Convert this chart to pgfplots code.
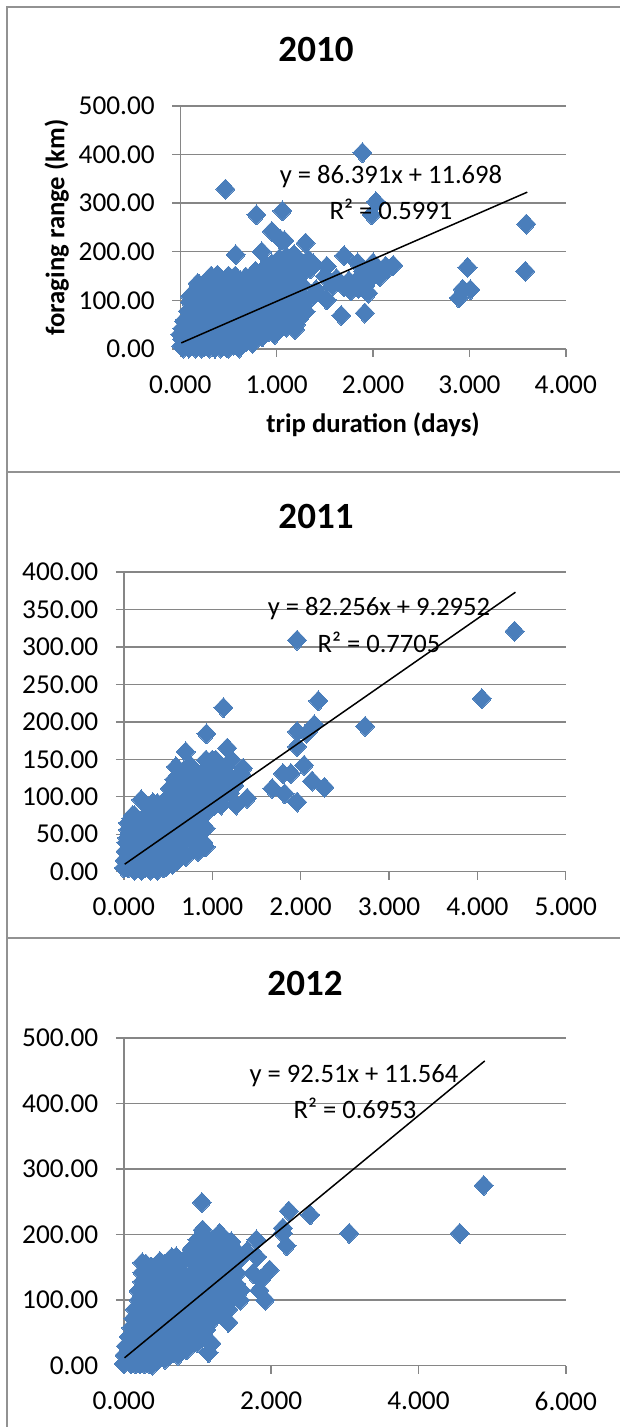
\documentclass[border=0pt]{standalone}
\usepackage{fontspec}
\setmainfont{Carlito}
\usepackage{pgfplots}
\pgfplotsset{compat=1.18}
\definecolor{gridc}{HTML}{868686}
\definecolor{dotc}{HTML}{4A7EBB}
\pgfplotsset{
  panel/.style={
    scale only axis, anchor=south west, clip=false, clip marker paths=true,
    axis x line=bottom, axis y line=left, axis line style={-, gridc, line width=1.4pt},
    tick align=outside, major tick length=8pt,
    every tick/.style={gridc, line width=1.4pt},
    ymajorgrids=true, grid style={gridc, line width=1.4pt},
    xmin=0, ymin=0,
    tick label style={font=\fontsize{27.3}{29}\selectfont},
    /pgf/number format/assume math mode=true,
    xticklabel style={/pgf/number format/fixed, /pgf/number format/fixed zerofill, /pgf/number format/precision=3, yshift=-15pt},
    yticklabel style={/pgf/number format/fixed, /pgf/number format/fixed zerofill, /pgf/number format/precision=2, xshift=-14pt},
    scaled ticks=false,
  },
  cloud/.style={only marks, mark=diamond*, mark size=10pt, mark options={fill=dotc, draw=dotc, line width=0pt, xscale=1.27}},
  trend/.style={black, line width=1.5pt, no marks},
}
\newcommand{\eqnode}[3]{\node[font=\fontsize{26.6}{28}\selectfont, inner sep=0pt] at (#1,{1427-#2}) {#3};}
\newcommand{\titlenode}[3]{\node[font=\fontsize{37}{39}\selectfont\bfseries, inner sep=0pt] at (#1,{1427-#2}) {#3};}
\begin{document}
\begin{tikzpicture}[x=1pt,y=1pt]
\path[use as bounding box] (0,0) rectangle (620,1427);
\draw[gridc!90, line width=1.6pt] (620,1420) -- (7,1420) -- (7,0);
\draw[gridc!90, line width=1.6pt] (7,955) -- (620,955);
\draw[gridc!90, line width=1.6pt] (7,489) -- (620,489);

% 2010
\begin{axis}[panel, at={(180.3pt,1078pt)}, width=385.5pt, height=243pt,
  xmax=4, ymax=500, xtick={0,1,2,3,4}, ytick={0,100,200,300,400,500},
  xlabel={\fontsize{26.7}{29}\selectfont\bfseries trip duration (days)},
  ylabel={\fontsize{26.7}{29}\selectfont\bfseries foraging range (km)},
  xlabel shift=12pt, ylabel shift=3pt]
\addplot[cloud] coordinates {
  (1.89,404)(0.468,329)(2.03,303)(1.985,276)(0.79,276)(1.06,284)(0.95,242)(1.08,223)(1.04,225)(1.30,218)
  (0.845,200)(0.575,194)(1.70,192)(3.59,257)(3.58,160)(2.98,168)(3.01,122)(2.93,123)(2.89,105)(1.67,69)
  (1.915,74)(1.95,115)(1.52,170)(1.52,101)(1.84,177)(2.21,172)(2.13,170)(2.0,177)(2.07,149)(1.33,184)
  (1.18,194)(1.30,77)(1.19,40)(0.61,2)(1.58,130)(1.70,128)(1.77,120)(1.85,125)(1.92,130)(2.1,160)(1.9,160)
  (1.41,122)(1.25,129)(1.38,110)(1.3,100)(1.5,150)
  (0.01,6)(0.05,6)(0.14,6)(0.25,6)(0.34,6)(0.42,6)
  (0.06,24)(0.17,24)(0.28,24)(0.38,24)(0.47,24)(0.57,24)(0.66,24)
  (0.02,42)(0.12,42)(0.23,42)(0.32,42)(0.42,42)(0.52,42)(0.62,42)(0.71,42)(0.80,42)(0.92,36)(1.0,42)
  (0.05,60)(0.15,60)(0.27,60)(0.36,60)(0.47,60)(0.57,60)(0.66,60)(0.76,60)(0.86,60)(0.95,60)(1.05,60)(1.13,60)
  (0.08,78)(0.18,78)(0.31,78)(0.41,78)(0.52,78)(0.61,78)(0.71,78)(0.81,78)(0.90,78)(1.0,78)(1.10,78)(1.17,78)
  (0.1,96)(0.22,96)(0.33,96)(0.45,96)(0.56,96)(0.66,96)(0.75,96)(0.86,96)(0.96,96)(1.05,96)(1.15,96)(1.22,96)
  (0.13,114)(0.25,114)(0.36,114)(0.47,114)(0.57,114)(0.69,114)(0.80,114)(0.91,114)(1.0,114)(1.12,114)(1.2,114)
  (0.2,132)(0.3,132)(0.41,132)(0.52,132)(0.63,132)(0.74,132)(0.85,132)(0.96,132)(1.06,132)(1.16,132)(1.26,132)
  (0.28,140)(0.385,152)(0.57,150)(0.68,148)(0.82,155)(0.93,150)(1.03,150)(1.13,150)(1.24,150)
  (0.9,172)(0.98,168)(1.07,168)(1.17,168)(1.27,168)(1.03,186)(1.12,182)
  (0.03,2)(0.09,2)(0.16,2)(0.22,2)(0.3,2)(0.36,2)(0.42,2)(0.5,2)
  (0.18,135)(0.1,108)(0.04,57)(0,30)(0.02,20)
  (0.32,150)(0.46,140)(0.5,150)(0.62,140)(0.75,145)(0.78,160)(0.88,165)(0.95,175)(1.1,190)(1.15,178)(1.22,185)
  (1.35,165)(1.38,175)(1.22,60)(1.25,75)(1.28,90)(1.2,50)(1.1,45)(0.98,30)(0.85,25)(0.75,12)(0.68,15)(0.55,8)(0.48,4)
  (1.62,145)(1.75,140)(2.02,165)(2.15,165)(1.95,140)(1.85,145)
};
\addplot[trend] coordinates {(0.01,12.5)(3.6,322.7)};
\end{axis}

% 2011
\begin{axis}[panel, at={(123.8pt,555.3pt)}, width=442pt, height=299.7pt,
  xmax=5, ymax=400, xtick={0,1,2,3,4,5}, ytick={0,50,100,150,200,250,300,350,400}]
\addplot[cloud] coordinates {
  (1.96,309)(4.42,321)(4.05,231)(2.20,228)(2.73,194)(1.127,219)(0.935,184)(2.155,196)(1.96,187)(1.96,167)
  (2.07,185)(2.04,142)(1.17,165)(1.22,149)(0.70,160)(0.59,140)(1.35,138)(1.89,131)(1.80,131)(2.13,121)
  (2.27,112.6)(1.68,111)(1.82,104)(1.96,93)(1.395,98)(1.27,89)(1.10,89)(0.197,96)(0.085,71)(0.05,56)
  (0.84,27)(0.925,33)(0.925,58)(0.48,7)(0.66,24)
  (0,5)(0.05,5)(0.14,5)(0.24,5)(0.34,5)(0.45,5)
  (0.01,15)(0.08,15)(0.18,15)(0.29,15)(0.4,15)(0.5,15)
  (0.02,27)(0.11,27)(0.22,27)(0.33,27)(0.44,27)(0.55,27)(0.66,27)
  (0.03,39)(0.13,39)(0.24,39)(0.35,39)(0.46,39)(0.57,39)(0.68,39)(0.78,39)(0.9,39)
  (0.06,50)(0.17,50)(0.28,50)(0.39,50)(0.5,50)(0.61,50)(0.72,50)(0.83,50)
  (0.1,62)(0.2,62)(0.3,62)(0.42,62)(0.53,62)(0.64,62)(0.75,62)(0.86,62)
  (0.1,75)(0.25,75)(0.37,75)(0.47,75)(0.59,75)(0.7,75)(0.8,75)(0.9,75)
  (0.3,87)(0.4,87)(0.52,87)(0.63,87)(0.74,87)(0.85,87)(0.97,87)
  (0.38,91)(0.5,99)(0.6,99)(0.7,99)(0.82,99)(0.93,99)(1.04,99)
  (0.52,111)(0.63,111)(0.74,111)(0.85,111)(0.96,111)(1.07,111)(1.15,111)
  (0.57,123)(0.68,123)(0.79,123)(0.9,123)(1.01,123)(1.12,123)(1.2,123)
  (0.68,135)(0.8,135)(0.92,135)(1.03,135)(1.14,135)
  (0.75,142)(0.93,149)(1.04,149)
  (0.97,140)(1.08,140)(1.18,125)(1.25,115)(1.2,105)(1.13,100)(1.02,88)(0.92,82)(0.6,15)(0.7,20)(0.55,10)
  (0.3,2)(0.12,2)(0.2,2)(0.38,2)(0.44,90)(0.33,92)(0.05,65)(0.12,75)(0.16,68)(0.04,45)(1.27,125)(1.33,130)(1.0,149)
};
\addplot[trend] coordinates {(0.01,10)(4.43,373)};
\end{axis}

% 2012
\begin{axis}[panel, at={(123.8pt,61.3pt)}, width=442pt, height=327.7pt,
  xmax=6, ymax=500, xtick={0,2,4,6}, ytick={0,100,200,300,400,500}]
\addplot[cloud] coordinates {
  (4.885,275)(4.56,202)(3.06,202)(2.53,230)(2.24,236)(1.06,249)(2.16,210)(2.21,183)(2.16,202)(1.07,207)
  (1.80,192)(1.81,166)(1.67,174)(1.98,146)(1.86,131)(1.92,100)(1.84,115)(1.755,141)(1.42,66)(1.19,34)
  (1.15,20)(0.735,16)(0.386,1)(0.25,157)(0.49,159)(0.71,166)(0.84,164)(1.30,202)(1.46,189)
  (1.59,115)(1.54,141)
  (0,3)(0.1,3)(0.22,3)(0.35,3)
  (0.01,16)(0.12,16)(0.25,16)(0.38,16)(0.5,16)(0.62,16)
  (0.03,30)(0.15,30)(0.28,30)(0.4,30)(0.53,30)(0.66,30)(0.78,30)(0.88,30)
  (0.065,44)(0.18,44)(0.31,44)(0.44,44)(0.57,44)(0.7,44)(0.82,44)(0.95,44)(1.05,44)
  (0.1,58)(0.22,58)(0.35,58)(0.48,58)(0.6,58)(0.73,58)(0.86,58)(0.98,58)(1.1,58)
  (0.13,72)(0.25,72)(0.38,72)(0.5,72)(0.63,72)(0.76,72)(0.89,72)(1.01,72)(1.14,72)(1.22,72)
  (0.15,86)(0.28,86)(0.41,86)(0.54,86)(0.67,86)(0.8,86)(0.92,86)(1.05,86)(1.18,86)(1.3,86)(1.42,86)
  (0.2,100)(0.32,100)(0.45,100)(0.58,100)(0.7,100)(0.83,100)(0.96,100)(1.08,100)(1.2,100)(1.33,100)(1.45,100)
  (0.2,114)(0.35,114)(0.48,114)(0.6,114)(0.73,114)(0.86,114)(0.99,114)(1.12,114)(1.25,114)(1.38,114)(1.5,114)
  (0.25,128)(0.38,128)(0.51,128)(0.64,128)(0.76,128)(0.89,128)(1.02,128)(1.15,128)(1.28,128)(1.4,128)
  (0.25,142)(0.42,142)(0.55,142)(0.67,142)(0.8,142)(0.93,142)(1.05,142)(1.18,142)(1.31,142)(1.44,142)
  (0.36,150)(0.6,156)(0.97,156)(1.1,156)(1.23,156)(1.36,156)(1.48,166)
  (1.0,172)(1.13,170)(1.26,170)(1.39,170)(1.05,184)(1.18,184)(1.3,184)(1.42,184)
  (0.06,8)(0.16,3)(0.28,3)(0.45,8)(0.56,10)(0.68,20)(0.3,155)(0.38,150)(0.55,155)(0.65,165)(0.78,158)(0.9,165)
  (0.92,178)(1.0,192)(1.12,195)(1.22,190)(1.35,195)(1.4,180)(1.5,178)(1.55,160)(1.52,125)(1.45,105)(1.35,85)
  (1.25,80)(1.12,55)(1.0,35)(0.85,24)(1.58,100)
};
\addplot[trend] coordinates {(0.01,12)(4.9,465)};
\end{axis}

\titlenode{316}{50}{2010}
\titlenode{316}{517}{2011}
\titlenode{305}{983}{2012}
\eqnode{391}{177}{y = 86.391x + 11.698}
\eqnode{391}{209}{R² = 0.5991}
\eqnode{379}{609}{y = 82.256x + 9.2952}
\eqnode{379}{642}{R² = 0.7705}
\eqnode{354}{1076}{y = 92.51x + 11.564}
\eqnode{355}{1108}{R² = 0.6953}
\end{tikzpicture}
\end{document}
